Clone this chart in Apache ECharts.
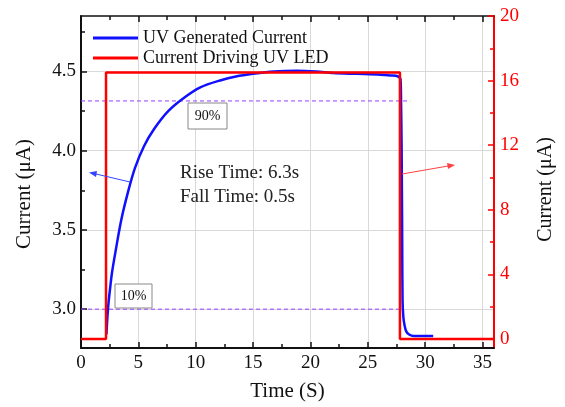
<!DOCTYPE html>
<html>
<head>
<meta charset="utf-8">
<script src="https://cdn.jsdelivr.net/npm/echarts@6/dist/echarts.min.js"></script>
<style>
html, body { margin: 0; padding: 0; background: #fff; }
#chart { width: 565px; height: 407px; }
</style>
</head>
<body>
<div id="chart"></div>
<script>
var chart = echarts.init(document.getElementById('chart'));

// tick positions
var timeTicks = [0, 5, 10, 15, 20, 25, 30, 35];
var timeMinor = [2.5, 7.5, 12.5, 17.5, 22.5, 27.5, 32.5];
var uvTicks = [3.0, 3.5, 4.0, 4.5];
var uvMinor = [3.25, 3.75, 4.25, 4.75];
var ledTicks = [0, 4, 8, 12, 16, 20];
var ledMinor = [2, 6, 10, 14, 18];

// UV generated current (uA)
var uvTime = [2.22, 2.3, 2.4, 2.55, 2.7, 3.0, 3.5, 4.1, 4.7, 5.5, 6.4, 7.6, 8.9, 10.4, 12.2, 13.5, 15.0, 16.8, 18.8, 20.5, 22.0, 24.0, 26.1, 27.0, 27.6, 27.85, 27.9, 27.95, 28.0, 28.03, 28.1, 28.2, 28.35, 28.6, 29.0, 30.7];
var uvCurrent = [2.84, 2.95, 3.04, 3.14, 3.23, 3.36, 3.56, 3.74, 3.89, 4.03, 4.14, 4.25, 4.33, 4.40, 4.445, 4.468, 4.485, 4.50, 4.505, 4.50, 4.49, 4.485, 4.48, 4.475, 4.47, 4.45, 4.30, 4.00, 3.40, 3.05, 2.95, 2.90, 2.86, 2.84, 2.83, 2.83];

// driving current (uA), right axis
var ledTime = [0, 2.18, 2.18, 27.8, 27.8, 36];
var ledCurrent = [0, 0, 16.5, 16.5, 0, 0];

// 10% / 90% levels
var level90 = [[0, 4.314], [28.7, 4.314]];
var level10 = [[0, 3.0], [27.7, 3.0]];

function pairs(xs, ys) {
    var out = [];
    for (var i = 0; i < xs.length; i++) out.push([xs[i], ys[i]]);
    return out;
}

var serif = '"Liberation Serif", "Times New Roman", serif';
var black = '#111';

// extra axis that only draws short (minor) ticks
function minorAxis(base, values, color) {
    return Object.assign({
        type: 'value',
        axisLine: { show: false, onZero: false },
        axisTick: { show: true, inside: true, length: 4, customValues: values, lineStyle: { color: color, width: 1.5 } },
        axisLabel: { show: false, customValues: values },
        splitLine: { show: false }
    }, base);
}

option = {
    animation: false,
    grid: { left: 81, right: 71, top: 16, bottom: 57 },
    legend: {
        data: ['UV Generated Current', 'Current Driving UV LED'],
        orient: 'vertical',
        left: 88,
        top: 24,
        icon: 'rect',
        itemWidth: 45,
        itemHeight: 3,
        itemGap: 2,
        textStyle: { fontFamily: serif, fontSize: 18, color: black, lineHeight: 18 }
    },
    xAxis: [
        {
            type: 'value', min: 0, max: 36,
            name: 'Time (S)', nameLocation: 'middle', nameGap: 33,
            nameTextStyle: { fontFamily: serif, fontSize: 21, color: black },
            axisLine: { onZero: false, lineStyle: { color: black, width: 2 } },
            axisTick: { inside: true, length: 6, customValues: timeTicks, lineStyle: { color: black, width: 1.5 } },
            axisLabel: { customValues: timeTicks, margin: 6, fontFamily: serif, fontSize: 19, color: black },
            splitLine: { show: true, lineStyle: { color: '#d9d9d9', width: 1 } }
        },
        minorAxis({ min: 0, max: 36, position: 'bottom' }, timeMinor, black),
        {
            type: 'value', min: 0, max: 36, position: 'top',
            axisLine: { onZero: false, lineStyle: { color: black, width: 1.5 } },
            axisTick: { inside: true, length: 6, customValues: timeTicks, lineStyle: { color: black, width: 1.5 } },
            axisLabel: { show: false, customValues: timeTicks },
            splitLine: { show: false }
        },
        minorAxis({ min: 0, max: 36, position: 'top' }, timeMinor, black)
    ],
    yAxis: [
        {
            type: 'value', min: 2.755, max: 4.85, position: 'left',
            name: 'Current (\u03bcA)', nameLocation: 'middle', nameGap: 46, nameRotate: 90,
            nameTextStyle: { fontFamily: serif, fontSize: 21, color: black, padding: [0, 24, 0, 0] },
            axisLine: { show: true, onZero: false, lineStyle: { color: black, width: 2 } },
            axisTick: { show: true, inside: true, length: 6, customValues: uvTicks, lineStyle: { color: black, width: 1.5 } },
            axisLabel: {
                customValues: uvTicks, margin: 5, fontFamily: serif, fontSize: 19, color: black,
                formatter: function (v) { return v.toFixed(1); }
            },
            splitLine: { show: true, lineStyle: { color: '#d9d9d9', width: 1 } }
        },
        minorAxis({ min: 2.755, max: 4.85, position: 'left' }, uvMinor, black),
        {
            type: 'value', min: -0.55, max: 20, position: 'right',
            name: 'Current (\u03bcA)', nameLocation: 'middle', nameGap: 42, nameRotate: 90,
            nameTextStyle: { fontFamily: serif, fontSize: 20, color: black, padding: [0, 15, 0, 0] },
            axisLine: { show: true, onZero: false, lineStyle: { color: '#ff0000', width: 2 } },
            axisTick: { show: true, inside: true, length: 6, customValues: ledTicks, lineStyle: { color: '#ff0000', width: 1.5 } },
            axisLabel: { customValues: ledTicks, margin: 6, fontFamily: serif, fontSize: 19, color: '#ff0000' },
            splitLine: { show: false }
        },
        minorAxis({ min: -0.55, max: 20, position: 'right' }, ledMinor, '#ff0000')
    ],
    series: [
        {
            name: 'UV Generated Current', type: 'line', xAxisIndex: 0, yAxisIndex: 0,
            data: pairs(uvTime, uvCurrent), smooth: 0.3, symbol: 'none',
            lineStyle: { color: '#1010ff', width: 2.5 }, itemStyle: { color: '#1010ff' }, z: 3
        },
        {
            name: 'Current Driving UV LED', type: 'line', xAxisIndex: 0, yAxisIndex: 2,
            data: pairs(ledTime, ledCurrent), symbol: 'none',
            lineStyle: { color: '#ff0000', width: 2.5 }, itemStyle: { color: '#ff0000' }, z: 4
        },
        {
            type: 'line', xAxisIndex: 0, yAxisIndex: 0, data: level90, symbol: 'none', silent: true,
            lineStyle: { color: '#9a3cff', width: 1, type: [4, 3] }, z: 2
        },
        {
            type: 'line', xAxisIndex: 0, yAxisIndex: 0, data: level10, symbol: 'none', silent: true,
            lineStyle: { color: '#9a3cff', width: 1, type: [4, 3] }, z: 2
        }
    ],
    graphic: [
        { type: 'rect', shape: { x: 188, y: 103, width: 39, height: 26 }, style: { fill: '#fff', stroke: '#888', lineWidth: 1 }, z: 10 },
        { type: 'text', x: 207.5, y: 116, style: { text: '90%', font: '14px ' + serif, fill: black, align: 'center', verticalAlign: 'middle' }, z: 11 },
        { type: 'rect', shape: { x: 115, y: 284, width: 37, height: 24 }, style: { fill: '#fff', stroke: '#888', lineWidth: 1 }, z: 10 },
        { type: 'text', x: 133.5, y: 296, style: { text: '10%', font: '14px ' + serif, fill: black, align: 'center', verticalAlign: 'middle' }, z: 11 },
        { type: 'text', x: 180, y: 173, style: { text: 'Rise Time: 6.3s', font: '19px ' + serif, fill: '#222', verticalAlign: 'middle' }, z: 11 },
        { type: 'text', x: 180, y: 197, style: { text: 'Fall Time: 0.5s', font: '19px ' + serif, fill: '#222', verticalAlign: 'middle' }, z: 11 },
        { type: 'line', shape: { x1: 130, y1: 182, x2: 96, y2: 174 }, style: { stroke: '#3344ff', lineWidth: 1 }, z: 11 },
        { type: 'polygon', shape: { points: [[89, 172.5], [97, 171], [96, 177]] }, style: { fill: '#3344ff' }, z: 11 },
        { type: 'line', shape: { x1: 402, y1: 174, x2: 448, y2: 166 }, style: { stroke: '#ff4040', lineWidth: 1 }, z: 11 },
        { type: 'polygon', shape: { points: [[455, 165], [447, 163], [448, 169]] }, style: { fill: '#ff4040' }, z: 11 }
    ]
};

chart.setOption(option);
</script>
</body>
</html>
